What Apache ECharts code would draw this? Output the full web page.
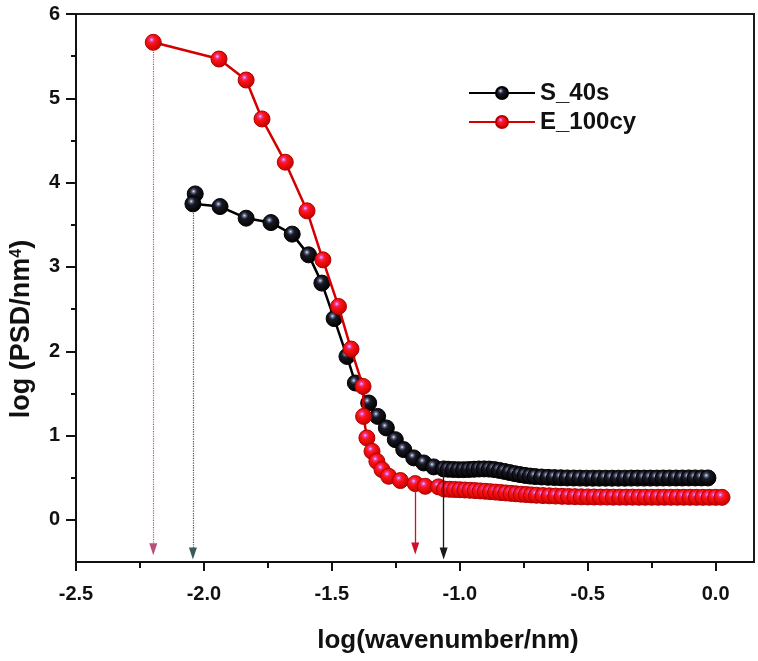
<!DOCTYPE html>
<html>
<head>
<meta charset="utf-8">
<script src="https://cdn.jsdelivr.net/npm/echarts@6/dist/echarts.min.js"></script>
<style>
html,body{margin:0;padding:0;background:#fff;}
#chart{width:758px;height:661px;}
</style>
</head>
<body>
<div id="chart"></div>
<script>
// ---- data ----
const seriesNames = ['S_40s', 'E_100cy'];

const s40_x = [-2.034,-2.043,-1.937,-1.835,-1.738,-1.655,-1.591,-1.539,-1.491,-1.441,-1.408,-1.356,-1.321,-1.287,-1.252,-1.219,-1.180,-1.141,-1.102,-1.063,
  -1.045,-1.025,-1.005,-0.985,-0.965,-0.945,-0.925,-0.905,-0.885,-0.865,-0.845,-0.825,-0.805,-0.785,-0.765,-0.745,-0.725,-0.705,-0.68,-0.655,
  -0.63,-0.605,-0.58,-0.555,-0.53,-0.505,-0.48,-0.455,-0.43,-0.405,-0.38,-0.355,-0.33,-0.305,-0.28,-0.255,-0.23,-0.205,-0.18,-0.155,
  -0.13,-0.105,-0.08,-0.055,-0.03];
const s40_y = [3.866,3.748,3.716,3.578,3.526,3.389,3.143,2.808,2.387,1.938,1.623,1.386,1.227,1.090,0.951,0.833,0.735,0.675,0.628,0.604,
  0.600,0.597,0.595,0.595,0.597,0.600,0.603,0.604,0.602,0.596,0.586,0.574,0.561,0.548,0.537,0.527,0.519,0.513,0.508,0.504,
  0.501,0.499,0.497,0.496,0.495,0.494,0.494,0.494,0.494,0.494,0.494,0.494,0.495,0.495,0.495,0.495,0.495,0.496,0.496,0.496,
  0.496,0.497,0.497,0.497,0.497];

const e100_x = [-2.198,-1.941,-1.835,-1.773,-1.682,-1.597,-1.535,-1.474,-1.425,-1.378,-1.376,-1.363,-1.343,-1.324,-1.304,-1.278,-1.232,-1.174,-1.135,-1.083,
  -1.06,-1.04,-1.02,-1.00,-0.98,-0.96,-0.94,-0.92,-0.90,-0.88,-0.86,-0.84,-0.82,-0.80,-0.78,-0.76,-0.74,-0.72,-0.70,
  -0.675,-0.65,-0.625,-0.60,-0.575,-0.55,-0.525,-0.50,-0.475,-0.45,-0.425,-0.40,-0.375,-0.35,-0.325,-0.30,-0.275,-0.25,-0.225,-0.20,
  -0.175,-0.15,-0.125,-0.10,-0.075,-0.05,-0.025,0.00,0.025];
const e100_y = [5.664,5.466,5.217,4.755,4.242,3.665,3.084,2.531,2.026,1.583,1.227,0.972,0.813,0.694,0.596,0.517,0.466,0.430,0.398,0.391,
  0.365,0.362,0.360,0.357,0.354,0.351,0.347,0.343,0.339,0.334,0.329,0.324,0.319,0.314,0.309,0.304,0.300,0.296,0.292,
  0.288,0.285,0.282,0.279,0.277,0.275,0.273,0.272,0.271,0.270,0.270,0.269,0.269,0.269,0.269,0.268,0.268,0.268,0.268,0.268,
  0.268,0.268,0.268,0.268,0.267,0.267,0.267,0.267,0.267];

// minor tick positions (major ticks/labels: x every 0.5 from -2.5, y every 1 from 0)
const xMinorTicks = [-2.25, -1.75, -1.25, -0.75, -0.25];
const yMinorTicks = [0.5, 1.5, 2.5, 3.5, 4.5, 5.5];

// arrows: [x, yStart, yEnd, colour, dotted]
const arrowLines = [
  [-2.198, 5.58, -0.35, '#b8507a', 'dotted'],
  [-2.043, 3.64, -0.40, '#3a5a5a', 'dotted'],
  [-1.174, 0.42, -0.34, '#d0102a', 'solid'],
  [-1.063, 0.60, -0.40, '#1a1a1a', 'solid']
];

// ---- build ----
const FONT = '"Liberation Sans", Arial, Helvetica, sans-serif';
function zip(xs, ys) { return xs.map((x, i) => [x, ys[i]]); }

const redBall = {
  type: 'radial', x: 0.4, y: 0.35, r: 0.65,
  colorStops: [
    {offset: 0, color: '#ffc0ff'},
    {offset: 0.16, color: '#e040b0'},
    {offset: 0.34, color: '#ff1414'},
    {offset: 1, color: '#c40000'}
  ]
};
const blackBall = {
  type: 'radial', x: 0.4, y: 0.35, r: 0.65,
  colorStops: [
    {offset: 0, color: '#e0e8ff'},
    {offset: 0.16, color: '#5a6080'},
    {offset: 0.34, color: '#181822'},
    {offset: 1, color: '#000000'}
  ]
};
const TICK = {color: '#111', width: 2};
const LABEL = {fontSize: 20, fontWeight: 'bold', fontFamily: FONT, color: '#111'};

const chart = echarts.init(document.getElementById('chart'));

// grid 1 extends 0.5 unit lower than grid 0 so its y axis can start at -1 with interval 1 (same px/unit).
const option = {
  backgroundColor: '#ffffff',
  animation: false,
  grid: [{
    left: 76, right: 4, top: 14, bottom: 99,
    show: true, borderColor: '#1a1a1a', borderWidth: 2, backgroundColor: 'transparent'
  }, {
    left: 76, right: 4, top: 14, bottom: 56.8, show: false
  }],
  legend: {
    data: seriesNames,
    orient: 'vertical',
    left: 468, top: 81, padding: 0,
    itemWidth: 66, itemHeight: 15, itemGap: 5,
    textStyle: {fontSize: 24, fontWeight: 'bold', fontFamily: FONT, color: '#111'}
  },
  xAxis: [{
    gridIndex: 0, type: 'value', min: -2.5, max: 0.15, interval: 0.5, position: 'bottom',
    axisLine: {show: true, onZero: false, lineStyle: {color: '#111', width: 2}},
    axisTick: {show: true, length: 9, inside: false, lineStyle: TICK},
    axisLabel: Object.assign({formatter: v => v.toFixed(1), showMaxLabel: false, showMinLabel: true, margin: 22}, LABEL),
    splitLine: {show: false}
  }, {
    gridIndex: 0, type: 'value', min: -2.5, max: 0.15, interval: 0.25, position: 'bottom',
    axisLine: {show: false, onZero: false},
    axisTick: {show: true, length: 6, inside: false, customValues: xMinorTicks, lineStyle: TICK},
    axisLabel: {show: false},
    splitLine: {show: false}
  }, {
    gridIndex: 1, type: 'value', min: -2.5, max: 0.15, show: false
  }],
  yAxis: [{
    gridIndex: 0, type: 'value', min: -0.5, max: 6, interval: 0.5, position: 'left',
    axisLine: {show: true, onZero: false, lineStyle: {color: '#111', width: 2}},
    axisTick: {show: true, length: 5, inside: false, customValues: yMinorTicks, lineStyle: TICK},
    axisLabel: {show: false},
    splitLine: {show: false}
  }, {
    gridIndex: 1, type: 'value', min: -1, max: 6, interval: 1, position: 'left',
    axisLine: {show: false, onZero: false},
    axisTick: {show: true, length: 10, inside: false, lineStyle: TICK},
    axisLabel: Object.assign({formatter: v => String(Math.round(v)), showMinLabel: false, showMaxLabel: true, margin: 16}, LABEL),
    splitLine: {show: false}
  }],
  series: [{
    name: seriesNames[0], type: 'line', xAxisIndex: 0, yAxisIndex: 0,
    data: zip(s40_x, s40_y),
    symbol: 'circle', symbolSize: 16, showAllSymbol: true, z: 3,
    lineStyle: {color: '#000', width: 2.5},
    itemStyle: {color: blackBall, borderColor: '#000', borderWidth: 1}
  }, {
    name: seriesNames[1], type: 'line', xAxisIndex: 0, yAxisIndex: 0,
    data: zip(e100_x, e100_y),
    symbol: 'circle', symbolSize: 16, showAllSymbol: true, z: 4,
    lineStyle: {color: '#d40000', width: 2.5},
    itemStyle: {color: redBall, borderColor: '#b00000', borderWidth: 1}
  }, {
    name: 'arrows', type: 'line', xAxisIndex: 0, yAxisIndex: 0, data: [], z: 6,
    silent: true,
    markLine: {
      silent: true, animation: false,
      label: {show: false},
      data: arrowLines.map(a => [
        {coord: [a[0], a[1]], symbol: 'none', lineStyle: {color: a[3], width: a[4] === 'dotted' ? 1.2 : 1.3, type: a[4]}},
        {coord: [a[0], a[2]], symbol: 'triangle', symbolSize: [8, 12]}
      ])
    }
  }],
  graphic: [{
    type: 'text', x: 448, y: 641, z: 10,
    style: {text: 'log(wavenumber/nm)', fontSize: 26, fontWeight: 'bold', fontFamily: FONT,
      fill: '#111', align: 'center', verticalAlign: 'middle'}
  }, {
    type: 'text', x: 22, y: 329, rotation: Math.PI / 2, z: 10,
    style: {
      text: '{a|log (PSD/nm}{s|4}{a|)}',
      align: 'center', verticalAlign: 'middle', fill: '#111',
      rich: {
        a: {fontSize: 27, fontWeight: 'bold', fontFamily: FONT, fill: '#111', color: '#111'},
        s: {fontSize: 16, fontWeight: 'bold', fontFamily: FONT, fill: '#111', color: '#111', verticalAlign: 'top'}
      }
    }
  }]
};
chart.setOption(option);
</script>
</body>
</html>
